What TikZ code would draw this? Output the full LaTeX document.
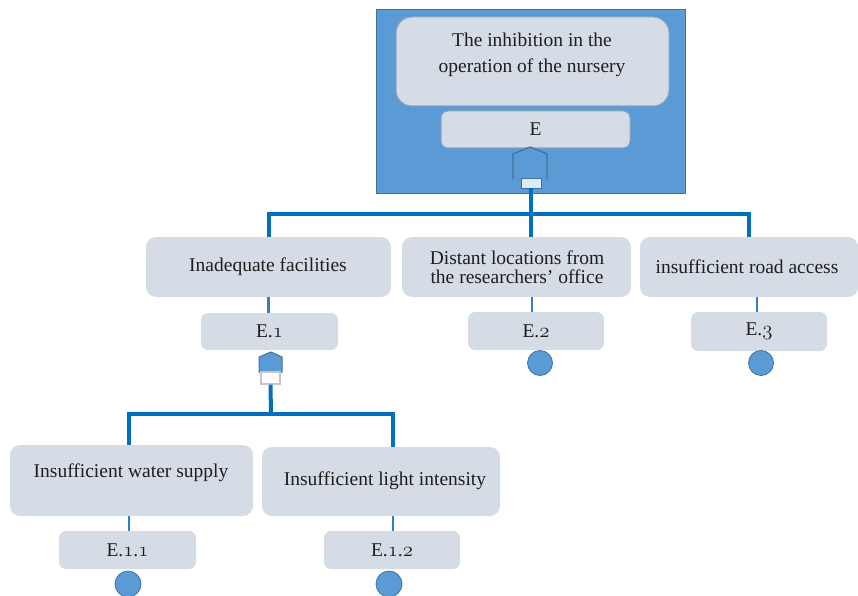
\documentclass[tikz,border=0pt]{standalone}
\usepackage{fontspec}
\setmainfont{Liberation Serif}
\definecolor{panelblue}{HTML}{5B9BD5}
\definecolor{paneledge}{HTML}{41719C}
\definecolor{boxfill}{HTML}{D6DCE5}
\definecolor{boxedge}{HTML}{8FA3BE}
\definecolor{trunkblue}{HTML}{0070C0}
\definecolor{twigblue}{HTML}{2F80C8}
\definecolor{inkgray}{HTML}{1E1E1E}
\definecolor{capfill}{HTML}{DEEBF7}
% old-style digits taken from the math italic font
\newcommand{\osn}[1]{\ensuremath{\mathnormal{#1}}}
\tikzset{
  txt/.style={font=\fontsize{19.5}{19}\selectfont, text=inkgray, align=center, inner sep=0pt},
  evbox/.style={fill=boxfill, draw=none, rounded corners=10pt, inner sep=0pt},
  codebox/.style={fill=boxfill, draw=none, rounded corners=7pt, inner sep=0pt,
    font=\fontsize{19.5}{19}\selectfont, text=inkgray},
  trunk/.style={draw=trunkblue, line width=4pt},
  twig/.style={draw=twigblue, line width=2.5pt},
  basic/.style={circle, fill=panelblue, draw=paneledge, line width=0.8pt, minimum size=25pt, inner sep=0pt},
}
\begin{document}
\begin{tikzpicture}[x=1pt, y=-1pt]
\useasboundingbox (0,0) rectangle (858,596);

% top event panel
\node[fill=panelblue, draw=paneledge, line width=1pt, minimum width=309pt, minimum height=183pt, inner sep=0pt]
  (panel) at (530.5,101.5) {};
\node[evbox, draw=boxedge, line width=1pt, rounded corners=16pt, minimum width=273pt, minimum height=89pt]
  (top) at (532.5,61.5) {};
\node[txt, font=\fontsize{19.5}{26}\selectfont] (toptext) at (532,55)
  {The inhibition in the\\operation of the nursery};
\node[codebox, draw=boxedge, line width=1pt, minimum width=189pt, minimum height=37pt]
  (E) at (535.5,129.5) {E};

% OR gate under E
\draw[draw=paneledge, line width=1.2pt, fill=panelblue]
  (513,179) -- (513,154) -- (530,147) -- (547,154) -- (547,179);
\node[fill=capfill, draw=paneledge, line width=0.8pt, minimum width=20pt, minimum height=10pt, inner sep=0pt]
  (gE) at (531,183) {};

% second level events
\node[evbox, minimum width=245pt, minimum height=60pt] (A) at (268.5,267) {};
\node[txt] (Atext) at (268,267) {Inadequate facilities};
\node[evbox, minimum width=229pt, minimum height=60pt] (B) at (516.5,267) {};
\node[txt] (Btext) at (517,267) {Distant locations from\\the researchers' office};
\node[evbox, minimum width=218pt, minimum height=60pt] (C) at (749,267) {};
\node[txt] (Ctext) at (747,267) {insufficient road access};

\node[codebox, minimum width=137pt, minimum height=37pt] (E1) at (269.5,331.5) {E.\osn{1}};
\node[codebox, minimum width=136pt, minimum height=38pt] (E2) at (536,331) {E.\osn{2}};
\node[codebox, minimum width=136pt, minimum height=39pt] (E3) at (759,331.5) {E.\osn{3}};

\node[basic] (b2) at (540,363) {};
\node[basic] (b3) at (761,363) {};

% OR gate under E.1
\draw[draw=paneledge, line width=1pt, fill=panelblue]
  (259,372) -- (259,357) -- (271,352) -- (282,357) -- (282,372) -- cycle;
\node[fill=white, draw=gray!45, line width=1.2pt, minimum width=19pt, minimum height=12pt, inner sep=0pt]
  (gE1) at (270.5,378) {};

% third level events
\node[evbox, minimum width=243pt, minimum height=71pt] (W) at (131.5,480.5) {};
\node[txt] (Wtext) at (131,473) {Insufficient water supply};
\node[evbox, minimum width=238pt, minimum height=69pt] (L) at (381,481.5) {};
\node[txt] (Ltext) at (385,481) {Insufficient light intensity};

\node[codebox, minimum width=137pt, minimum height=38pt] (E11) at (127.5,550) {E.\osn{1}.\osn{1}};
\node[codebox, minimum width=136pt, minimum height=38pt] (E12) at (392,550) {E.\osn{1}.\osn{2}};

\node[basic, minimum size=26pt] (b11) at (128,584) {};
\node[basic, minimum size=26pt] (b12) at (389,584) {};

% tree connectors, upper level
\coordinate (j0) at (531,214);
\draw[trunk] (gE.south) -- (j0);
\draw[trunk] (A.north) |- (j0) -| (C.north);
\draw[trunk] (j0) -- (j0 |- B.north);
\draw[twig] (A.south) -- (A.south |- E1.north);
\draw[twig] (B.south -| 532,0) -- (E2.north -| 532,0);
\draw[twig] (C.south -| 757,0) -- (E3.north -| 757,0);

% tree connectors, lower level
\coordinate (j1) at (271,414);
\draw[trunk] (gE1.south) -- (j1);
\draw[trunk] (W.north -| 129,0) |- (j1) -| (L.north -| 393,0);
\draw[twig] (W.south -| 129,0) -- (E11.north -| 129,0);
\draw[twig] (L.south -| 393,0) -- (E12.north -| 393,0);
\end{tikzpicture}
\end{document}
